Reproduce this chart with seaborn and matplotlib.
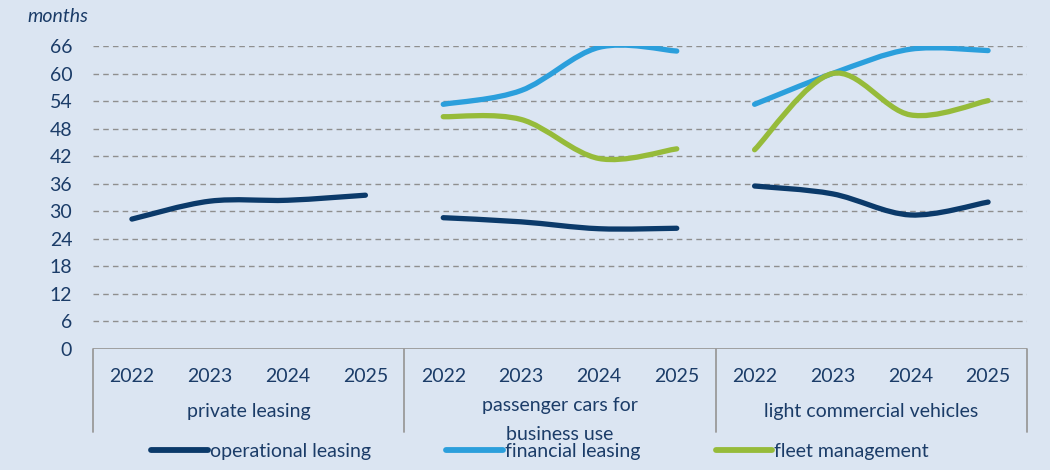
import numpy as np
import pandas as pd
import matplotlib
matplotlib.use("Agg")
import matplotlib.pyplot as plt
from matplotlib.path import Path
from matplotlib.patches import PathPatch
from matplotlib.lines import Line2D
import matplotlib.transforms as mtransforms
import seaborn as sns

# ---- data -------------------------------------------------------------
years = ["2022", "2023", "2024", "2025"]
segments = ["private leasing", "passenger cars for\nbusiness use", "light commercial vehicles"]
series_names = ["operational leasing", "financial leasing", "fleet management"]

operational_private = [28.3, 32.2, 32.4, 33.5]
operational_business = [28.6, 27.7, 26.2, 26.3]
operational_lcv = [35.5, 33.8, 29.2, 32.0]
financial_business = [53.3, 56.3, 65.7, 64.9]
financial_lcv = [53.3, 60.0, 65.3, 65.0]
fleet_business = [50.6, 50.0, 41.5, 43.6]
fleet_lcv = [43.4, 60.0, 51.0, 54.1]

y_ticks = [0, 6, 12, 18, 24, 30, 36, 42, 48, 54, 60, 66]

colors = {"operational leasing": "#0b3a6a",
          "financial leasing": "#2b9fdc",
          "fleet management": "#96bb3a"}
text_color = "#1b3c68"
bg = "#dbe5f2"
FS = 14

records = []
for seg_i, seg, ser, vals in [
    (0, segments[0], series_names[0], operational_private),
    (1, segments[1], series_names[0], operational_business),
    (2, segments[2], series_names[0], operational_lcv),
    (1, segments[1], series_names[1], financial_business),
    (2, segments[2], series_names[1], financial_lcv),
    (1, segments[1], series_names[2], fleet_business),
    (2, segments[2], series_names[2], fleet_lcv),
]:
    for yi, v in enumerate(vals):
        records.append({"segment": seg, "series": ser, "year": years[yi],
                        "pos": seg_i * len(years) + yi, "value": v})
df = pd.DataFrame(records)
df["line_id"] = df["series"] + "|" + df["segment"]

# ---- style ------------------------------------------------------------
sns.set_theme(style="white")
plt.rcParams["font.family"] = ["Lato", "DejaVu Sans"]
plt.rcParams["text.color"] = text_color

fig = plt.figure(figsize=(10.5, 4.7), dpi=100, facecolor=bg)
ax = fig.add_axes([93 / 1050, 1 - 349 / 470, (1027 - 93) / 1050, (349 - 46) / 470])
ax.set_facecolor(bg)

sns.lineplot(data=df, x="pos", y="value", hue="series", units="line_id",
             estimator=None, palette=colors, linewidth=3.8, legend=False,
             sort=True, ax=ax)


def smooth_path(x, y):
    """Cubic Bezier through the points (Catmull-Rom tangents)."""
    pts = np.column_stack([x, y])
    n = len(pts)
    verts = [pts[0]]
    codes = [Path.MOVETO]
    for i in range(n - 1):
        p0 = pts[i - 1] if i > 0 else pts[i]
        p1, p2 = pts[i], pts[i + 1]
        p3 = pts[i + 2] if i + 2 < n else pts[i + 1]
        c1 = p1 + (p2 - p0) / 6.0
        c2 = p2 - (p3 - p1) / 6.0
        verts += [c1, c2, p2]
        codes += [Path.CURVE4] * 3
    return Path(verts, codes)


# swap the straight segments for smoothed curves
for line in list(ax.lines):
    xd, yd = line.get_xdata(), line.get_ydata()
    patch = PathPatch(smooth_path(xd, yd), facecolor="none",
                      edgecolor=line.get_color(), linewidth=3.8,
                      capstyle="round", joinstyle="round", zorder=3)
    ax.add_patch(patch)
    line.set_visible(False)

n_pos = len(segments) * len(years)
ax.set_xlim(-0.5, n_pos - 0.5)
ax.set_ylim(0, 66)
ax.set_yticks(y_ticks)
ax.set_yticklabels([str(t) for t in y_ticks], fontsize=FS, color=text_color)
ax.tick_params(axis="y", length=0, pad=15)
ax.set_xticks([])
ax.set_xlabel("")
ax.set_ylabel("")
for s in ax.spines.values():
    s.set_visible(False)

for t in y_ticks[1:]:
    ax.axhline(t, color="#8f8f8f", linewidth=1.0, linestyle=(0, (4, 3)), zorder=1)
ax.axhline(0, color="#9a9a9a", linewidth=1.3, zorder=1)

# category box below the plot
trans = mtransforms.blended_transform_factory(ax.transData, ax.transAxes)
box_bottom = -(432 - 349) / (349 - 46)
for b in range(len(segments) + 1):
    xb = b * len(years) - 0.5
    ax.add_line(Line2D([xb, xb], [0, box_bottom], transform=trans,
                       color="#9a9a9a", linewidth=1.3, clip_on=False))

for p in range(n_pos):
    ax.text(p, -(377 - 349) / 303, years[p % len(years)], transform=trans,
            ha="center", va="center", fontsize=FS, color=text_color)

for si, seg in enumerate(segments):
    xc = si * len(years) + (len(years) - 1) / 2
    yc = -(420 - 349) / 303 if "\n" in seg else -(412 - 349) / 303
    ax.text(xc, yc, seg, transform=trans, ha="center", va="center",
            fontsize=FS, color=text_color, linespacing=1.9)

fig.text(27 / 1050, 1 - 17 / 470, "months", fontsize=FS, style="italic",
         color=text_color, ha="left", va="center")

handles = [Line2D([0], [0], color=colors[s], linewidth=4.2,
                  solid_capstyle="round") for s in series_names]
fig.legend(handles, series_names, loc="center", ncol=3,
           bbox_to_anchor=(540 / 1050, 1 - 451 / 470), frameon=False,
           fontsize=FS, handlelength=2.9, handletextpad=0.1,
           columnspacing=3.9, labelcolor=text_color, borderaxespad=0)

fig.savefig("out.png", dpi=100, facecolor=bg)
